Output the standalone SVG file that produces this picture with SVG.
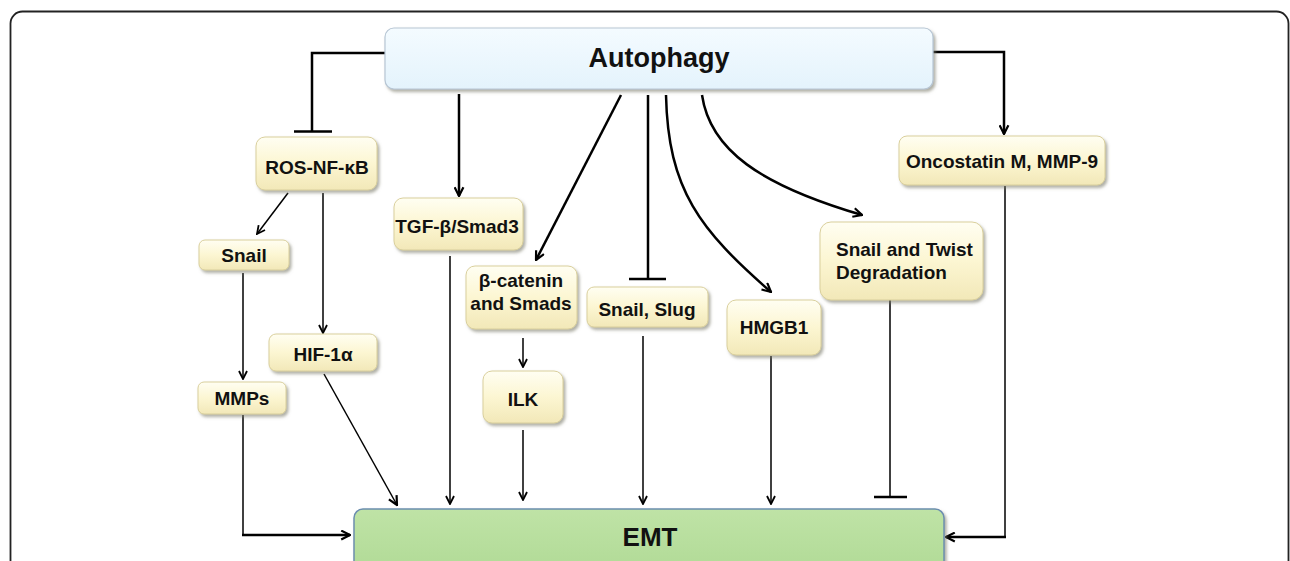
<svg xmlns="http://www.w3.org/2000/svg" width="1290" height="561" viewBox="0 0 1290 561">
<style>
  .lbl { font-family: "Liberation Sans", Arial, sans-serif; font-weight: bold; font-size: 19px; fill: #111; text-anchor: middle; }
  .big { font-size: 27px; }
  .node { fill: url(#cream); stroke: #d9cf9c; stroke-width: 1; filter: url(#shadow); }
  .thick { fill: none; stroke: #000; stroke-width: 2.5; }
  .thin { fill: none; stroke: #000; stroke-width: 1.5; }
</style>
<defs>
  <linearGradient id="cream" x1="0" y1="0" x2="0" y2="1">
    <stop offset="0" stop-color="#fffef2"/>
    <stop offset="0.5" stop-color="#fcf6d2"/>
    <stop offset="1" stop-color="#f2e8b8"/>
  </linearGradient>
  <linearGradient id="blue" x1="0" y1="0" x2="0" y2="1">
    <stop offset="0" stop-color="#f4fbff"/>
    <stop offset="1" stop-color="#e4f3fc"/>
  </linearGradient>
  <linearGradient id="green" x1="0" y1="0" x2="0" y2="1">
    <stop offset="0" stop-color="#bfe3a6"/>
    <stop offset="1" stop-color="#add892"/>
  </linearGradient>
  <filter id="shadow" x="-10%" y="-10%" width="130%" height="140%">
    <feDropShadow dx="2" dy="2.5" stdDeviation="1.5" flood-color="#7a7a6a" flood-opacity="0.6"/>
  </filter>
  <marker id="ah" viewBox="0 0 10 10" refX="9" refY="5" markerWidth="11" markerHeight="11" markerUnits="userSpaceOnUse" orient="auto">
    <path d="M1,1 L9,5 L1,9" fill="none" stroke="#000" stroke-width="2"/>
  </marker>
  <marker id="ahs" viewBox="0 0 10 10" refX="9" refY="5" markerWidth="10" markerHeight="10" markerUnits="userSpaceOnUse" orient="auto">
    <path d="M1,1 L9,5 L1,9" fill="none" stroke="#000" stroke-width="1.8"/>
  </marker>
</defs>

<rect x="10.5" y="11.5" width="1278" height="700" rx="12" fill="none" stroke="#222" stroke-width="1.8"/>

<g id="connectors">
  <path class="thick" d="M385,53 H312 V131"/>
  <line class="thick" x1="294" y1="131.5" x2="332" y2="131.5"/>
  <path class="thick" d="M933,52 H1004 V134" marker-end="url(#ah)"/>
  <line class="thick" x1="459" y1="94" x2="459" y2="196" marker-end="url(#ah)"/>
  <line class="thick" x1="621" y1="95" x2="536" y2="260" marker-end="url(#ah)"/>
  <line class="thick" x1="648" y1="95" x2="648" y2="279"/>
  <line class="thick" x1="629" y1="279" x2="666" y2="279"/>
  <path class="thick" d="M666,95 C668,190 700,230 771,292" marker-end="url(#ah)"/>
  <path class="thick" d="M702,95 C710,150 760,185 862,215" marker-end="url(#ah)"/>
  <line class="thin" x1="288" y1="193" x2="257" y2="234" marker-end="url(#ahs)"/>
  <line class="thin" x1="323" y1="193" x2="323" y2="333" marker-end="url(#ahs)"/>
  <line class="thin" x1="243" y1="273" x2="243" y2="379" marker-end="url(#ahs)"/>
  <path class="thin" d="M243,415 V535"/>
  <line class="thick" x1="242" y1="535" x2="350" y2="535" marker-end="url(#ah)"/>
  <line class="thin" x1="324" y1="374" x2="397" y2="505" marker-end="url(#ah)"/>
  <line class="thin" x1="450" y1="256" x2="450" y2="504" marker-end="url(#ahs)"/>
  <line class="thin" x1="523" y1="338" x2="523" y2="367" marker-end="url(#ahs)"/>
  <line class="thin" x1="523" y1="430" x2="523" y2="500" marker-end="url(#ahs)"/>
  <line class="thin" x1="643" y1="336" x2="643" y2="504" marker-end="url(#ahs)"/>
  <line class="thin" x1="771" y1="356" x2="771" y2="504" marker-end="url(#ahs)"/>
  <line class="thin" x1="890" y1="300" x2="890" y2="497"/>
  <line class="thick" x1="874" y1="497" x2="907" y2="497"/>
  <path class="thin" d="M1005,186 V537"/>
  <line class="thick" x1="1006" y1="537" x2="946" y2="537" marker-end="url(#ah)"/>
</g>

<g id="autophagy">
  <rect x="385" y="28" width="548" height="61" rx="9" fill="url(#blue)" stroke="#b7c6d4" stroke-width="1.2" filter="url(#shadow)"/>
  <text class="lbl big" x="659" y="67">Autophagy</text>
</g>
<g id="ros-nf-kb">
  <rect class="node" x="256" y="137" width="121" height="53" rx="9"/>
  <text class="lbl" x="317" y="174">ROS-NF-κB</text>
</g>
<g id="oncostatin">
  <rect class="node" x="899" y="136" width="206" height="49" rx="8"/>
  <text class="lbl" x="1002" y="168">Oncostatin M, MMP-9</text>
</g>
<g id="snail">
  <rect class="node" x="199" y="240" width="90" height="30" rx="6"/>
  <text class="lbl" x="244" y="262">Snail</text>
</g>
<g id="tgf">
  <rect class="node" x="394" y="198" width="129" height="52" rx="9"/>
  <text class="lbl" x="457" y="233">TGF-β/Smad3</text>
</g>
<g id="beta-catenin">
  <rect class="node" x="466" y="266" width="111" height="63" rx="9"/>
  <text class="lbl" x="521" y="287">β-catenin</text>
  <text class="lbl" x="521" y="310">and Smads</text>
</g>
<g id="snail-slug">
  <rect class="node" x="587" y="287" width="121" height="40" rx="7"/>
  <text class="lbl" x="647" y="316">Snail, Slug</text>
</g>
<g id="hmgb1">
  <rect class="node" x="727" y="300" width="94" height="55" rx="9"/>
  <text class="lbl" x="774" y="334">HMGB1</text>
</g>
<g id="snail-twist">
  <rect class="node" x="820" y="222" width="163" height="78" rx="11"/>
  <text class="lbl" x="836" y="256" style="text-anchor:start">Snail and Twist</text>
  <text class="lbl" x="836" y="279" style="text-anchor:start">Degradation</text>
</g>
<g id="hif">
  <rect class="node" x="269" y="334" width="108" height="37" rx="7"/>
  <text class="lbl" x="323" y="361">HIF-1α</text>
</g>
<g id="mmps">
  <rect class="node" x="198" y="382" width="88" height="32" rx="6"/>
  <text class="lbl" x="242" y="405">MMPs</text>
</g>
<g id="ilk">
  <rect class="node" x="483" y="371" width="80" height="52" rx="9"/>
  <text class="lbl" x="523" y="406">ILK</text>
</g>
<g id="emt">
  <rect x="354" y="509" width="590" height="80" rx="9" fill="url(#green)" stroke="#6c8eaf" stroke-width="1.5" filter="url(#shadow)"/>
  <text class="lbl big" x="650" y="546" style="font-size:26px">EMT</text>
</g>
</svg>
